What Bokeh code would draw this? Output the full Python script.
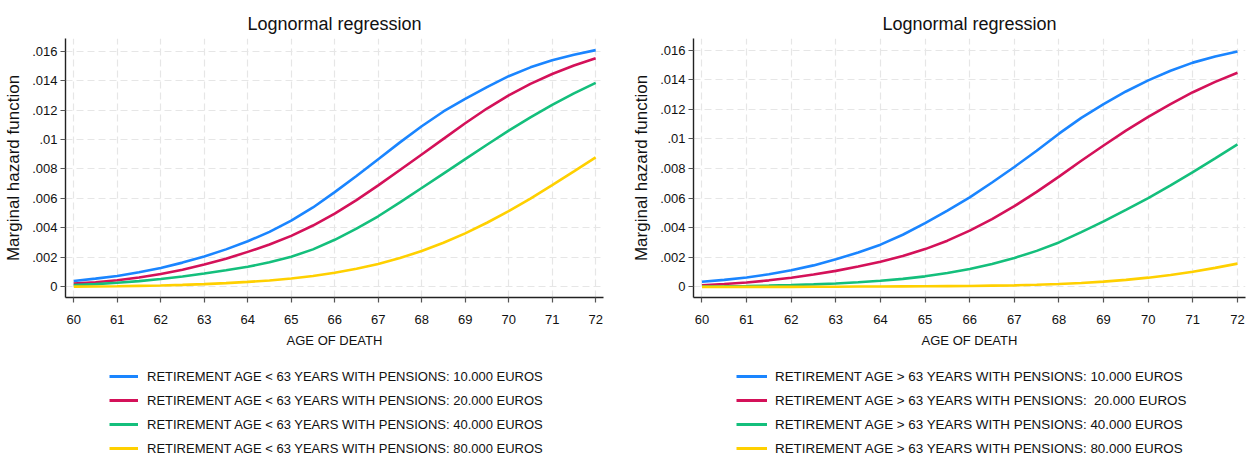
from bokeh.plotting import figure
from bokeh.layouts import row, column
from bokeh.models import Legend, LegendItem, FixedTicker, CustomJSTickFormatter, Range1d
from bokeh.embed import file_html
from bokeh.resources import INLINE

# ---------------------------------------------------------------- data
ages = [60.0, 60.5, 61.0, 61.5, 62.0, 62.5, 63.0, 63.5, 64.0, 64.5, 65.0, 65.5,
        66.0, 66.5, 67.0, 67.5, 68.0, 68.5, 69.0, 69.5, 70.0, 70.5, 71.0, 71.5, 72.0]

# retirement before 63
early_10k = [0.00038, 0.00054, 0.00072, 0.00097, 0.00127, 0.00163, 0.00205, 0.00253,
             0.00308, 0.00372, 0.00448, 0.00538, 0.00642, 0.00752, 0.00866, 0.00980,
             0.01090, 0.01190, 0.01275, 0.01356, 0.01430, 0.01490, 0.01538, 0.01576, 0.01607]
early_20k = [0.00020, 0.00030, 0.00043, 0.00062, 0.00086, 0.00115, 0.00150, 0.00190,
             0.00236, 0.00286, 0.00345, 0.00415, 0.00496, 0.00588, 0.00688, 0.00792,
             0.00898, 0.01004, 0.01110, 0.01210, 0.01300, 0.01378, 0.01445, 0.01502, 0.01552]
early_40k = [0.00010, 0.00017, 0.00026, 0.00037, 0.00052, 0.00069, 0.00089, 0.00111,
             0.00135, 0.00165, 0.00203, 0.00253, 0.00318, 0.00394, 0.00478, 0.00572,
             0.00670, 0.00768, 0.00866, 0.00964, 0.01060, 0.01150, 0.01235, 0.01313, 0.01385]
early_80k = [0.00000, 0.00001, 0.00002, 0.00005, 0.00008, 0.00012, 0.00017, 0.00024,
             0.00032, 0.00042, 0.00055, 0.00072, 0.00094, 0.00121, 0.00154, 0.00194,
             0.00242, 0.00298, 0.00362, 0.00434, 0.00513, 0.00598, 0.00689, 0.00783, 0.00878]

# retirement after 63
late_10k = [0.00034, 0.00047, 0.00063, 0.00085, 0.00112, 0.00145, 0.00186, 0.00232,
            0.00285, 0.00352, 0.00430, 0.00515, 0.00605, 0.00705, 0.00810, 0.00920,
            0.01035, 0.01142, 0.01235, 0.01320, 0.01395, 0.01460, 0.01515, 0.01557, 0.01590]
late_20k = [0.00011, 0.00019, 0.00029, 0.00044, 0.00062, 0.00083, 0.00108, 0.00137,
            0.00170, 0.00208, 0.00255, 0.00312, 0.00380, 0.00458, 0.00545, 0.00642,
            0.00745, 0.00852, 0.00955, 0.01055, 0.01148, 0.01235, 0.01315, 0.01385, 0.01447]
late_40k = [0.00002, 0.00003, 0.00005, 0.00008, 0.00012, 0.00017, 0.00023, 0.00031,
            0.00041, 0.00054, 0.00071, 0.00093, 0.00121, 0.00155, 0.00195, 0.00243,
            0.00300, 0.00370, 0.00442, 0.00520, 0.00600, 0.00685, 0.00775, 0.00868, 0.00962]
late_80k = [0.00000, 0.00000, 0.00000, 0.00000, 0.00000, 0.00001, 0.00001, 0.00002,
            0.00002, 0.00003, 0.00004, 0.00005, 0.00006, 0.00008, 0.00010, 0.00014,
            0.00019, 0.00026, 0.00035, 0.00047, 0.00062, 0.00080, 0.00102, 0.00128, 0.00157]

x_ticks = [60, 61, 62, 63, 64, 65, 66, 67, 68, 69, 70, 71, 72]
y_ticks = [0, 0.002, 0.004, 0.006, 0.008, 0.01, 0.012, 0.014, 0.016]

early_labels = [
    "RETIREMENT AGE < 63 YEARS WITH PENSIONS: 10.000 EUROS",
    "RETIREMENT AGE < 63 YEARS WITH PENSIONS: 20.000 EUROS",
    "RETIREMENT AGE < 63 YEARS WITH PENSIONS: 40.000 EUROS",
    "RETIREMENT AGE < 63 YEARS WITH PENSIONS: 80.000 EUROS",
]
late_labels = [
    "RETIREMENT AGE > 63 YEARS WITH PENSIONS: 10.000 EUROS",
    "RETIREMENT AGE > 63 YEARS WITH PENSIONS:  20.000 EUROS",
    "RETIREMENT AGE > 63 YEARS WITH PENSIONS: 40.000 EUROS",
    "RETIREMENT AGE > 63 YEARS WITH PENSIONS: 80.000 EUROS",
]

colors = ["#1a85ff", "#d41159", "#14bf7c", "#ffd000"]

FONT = "Liberation Sans"
INK = "#111111"
LINE_W = 2.6


def chart(series, borders, y_range):
    left, right, top, bottom = borders
    p = figure(width=625, height=355, output_backend="svg", toolbar_location=None,
               x_range=Range1d(59.81, 72.18), y_range=Range1d(*y_range),
               min_border_left=left, min_border_right=right,
               min_border_top=top, min_border_bottom=bottom)
    p.outline_line_color = None

    p.title.text = "Lognormal regression"
    p.title.align = "center"
    p.title.text_font = FONT
    p.title.text_font_size = "18px"
    p.title.text_font_style = "normal"
    p.title.text_color = INK
    p.title.standoff = 10

    for ax in (p.xaxis[0], p.yaxis[0]):
        ax.axis_line_color = "#222222"
        ax.axis_line_width = 1.4
        ax.major_tick_line_color = "#555555"
        ax.major_tick_line_width = 1.2
        ax.major_tick_out = 5
        ax.major_tick_in = 0
        ax.minor_tick_line_color = None
        ax.major_label_text_font = FONT
        ax.major_label_text_font_size = "13px"
        ax.major_label_text_color = INK
        ax.axis_label_text_font = FONT
        ax.axis_label_text_font_style = "normal"
        ax.axis_label_text_color = INK

    p.xaxis.ticker = FixedTicker(ticks=x_ticks)
    p.xaxis.axis_label = "AGE OF DEATH"
    p.xaxis.axis_label_text_font_size = "13px"
    p.xaxis.major_label_standoff = 12
    p.xaxis.axis_label_standoff = 6

    p.yaxis.ticker = FixedTicker(ticks=y_ticks)
    p.yaxis.formatter = CustomJSTickFormatter(code="""
        if (tick == 0) return '0';
        return parseFloat(tick.toFixed(3)).toString().replace(/^0\\./, '.');
    """)
    p.yaxis.major_label_orientation = "horizontal"
    p.yaxis.axis_label = "Marginal hazard function"
    p.yaxis.axis_label_text_font_size = "17px"
    p.yaxis.major_label_standoff = 3
    p.yaxis.axis_label_standoff = 6

    for g in (p.xgrid[0], p.ygrid[0]):
        g.grid_line_color = "#e6e6e6"
        g.grid_line_width = 1.2
        g.grid_line_dash = "7 4"
    p.xgrid.ticker = FixedTicker(ticks=x_ticks)
    p.ygrid.ticker = FixedTicker(ticks=y_ticks)

    for vals, col in zip(series, colors):
        p.line(ages, vals, line_color=col, line_width=LINE_W)
    return p


def key(series, labels, xy, glyph_w, standoff, size):
    # a strip under each chart that only carries the legend; its ranges
    # keep the series themselves out of view
    p = figure(width=625, height=104, output_backend="svg", toolbar_location=None,
               x_range=Range1d(0, 1), y_range=Range1d(0, 1),
               x_axis_location=None, y_axis_location=None,
               min_border_left=0, min_border_right=0,
               min_border_top=0, min_border_bottom=0)
    p.outline_line_color = None
    p.grid.visible = False
    items = []
    for vals, lab, col in zip(series, labels, colors):
        r = p.line(ages, vals, line_color=col, line_width=3)
        items.append(LegendItem(label=lab, renderers=[r]))
    legend = Legend(items=items, location=xy, orientation="vertical",
                    padding=0, margin=0, spacing=4,
                    glyph_width=glyph_w, glyph_height=20, label_height=20,
                    label_standoff=standoff, label_text_font=FONT,
                    label_text_font_size=size, label_text_color=INK,
                    border_line_color=None, background_fill_alpha=0)
    p.add_layout(legend, "center")
    return p


early = [early_10k, early_20k, early_40k, early_80k]
late = [late_10k, late_20k, late_40k, late_80k]

p1 = chart(early, (65, 22, 38, 57), (-0.00074, 0.01686))
p2 = chart(late, (68, 5, 37, 58), (-0.00072, 0.01678))
k1 = key(early, early_labels, (109, 1), 29, 9, "13px")
k2 = key(late, late_labels, (111, 1), 31, 8, "13.4px")

layout = column(row(p1, p2, spacing=0), row(k1, k2, spacing=0), spacing=0)

with open("out.html", "w") as f:
    f.write(file_html(layout, INLINE))
